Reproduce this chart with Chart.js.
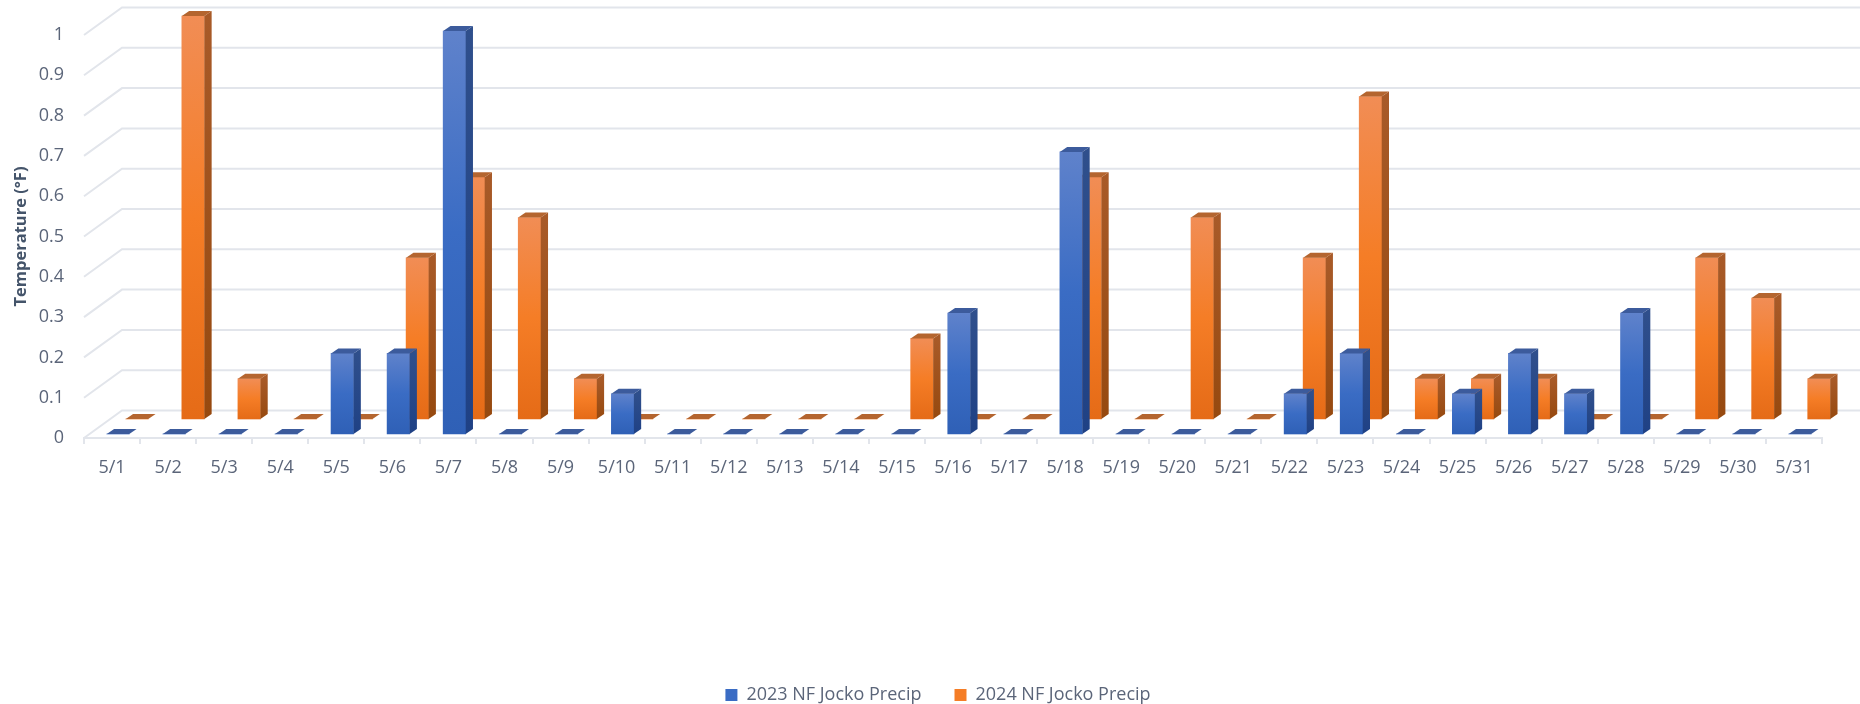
<!DOCTYPE html>
<html>
<head>
<meta charset="utf-8">
<style>
  html, body { margin: 0; padding: 0; background: #fff; }
  #wrap { width: 1860px; height: 704px; }
</style>
<script src="https://cdn.jsdelivr.net/npm/chart.js@4"></script>
</head>
<body>
<div id="wrap"><canvas id="precipChart" width="1860" height="704"></canvas></div>
<script>
const days = ['5/1','5/2','5/3','5/4','5/5','5/6','5/7','5/8','5/9','5/10','5/11','5/12','5/13','5/14','5/15','5/16',
  '5/17','5/18','5/19','5/20','5/21','5/22','5/23','5/24','5/25','5/26','5/27','5/28','5/29','5/30','5/31'];
const precip2023 = [0,0,0,0,0.2,0.2,1,0,0,0.1,0,0,0,0,0,0.3,0,0.7,0,0,0,0.1,0.2,0,0.1,0.2,0.1,0.3,0,0,0];
const precip2024 = [0,1,0.1,0,0,0.4,0.6,0.5,0.1,0,0,0,0,0,0.2,0,0,0.6,0,0.5,0,0.4,0.8,0.1,0.1,0.1,0,0,0.4,0.3,0.1];
const yTickLabels = ['0','0.1','0.2','0.3','0.4','0.5','0.6','0.7','0.8','0.9','1'];

const font = '"Open Sans", sans-serif';
const textColor = '#5b6579';
const gridColor = '#e2e5eb';

// 3D look: the wall sits behind the front axis, each series on its own row
const wallDx = 38, wallDy = -27.5;
const barDx = 7.3, barDy = -5;
const rows = [
  { dx: 6, dy: -4, top: '#5f82cb', mid: '#3a6cc4', bottom: '#2f60b6', sideTop: '#2f4f8c', sideBottom: '#1f4185', cap: '#3c5b9c', legend: '#3a6cc4' },
  { dx: 25, dy: -19, top: '#f18d55', mid: '#f57d26', bottom: '#e56b17', sideTop: '#a85a28', sideBottom: '#96490f', cap: '#b4652f', legend: '#f57d26' }
];

function barFill(row) {
  return (c) => {
    if (c.type !== 'data' || !c.chart.chartArea || !c.raw) return row.legend;
    const y = c.chart.scales.y;
    const g = c.chart.ctx.createLinearGradient(0, y.getPixelForValue(c.raw), 0, y.getPixelForValue(0));
    g.addColorStop(0, row.top);
    g.addColorStop(0.5, row.mid);
    g.addColorStop(1, row.bottom);
    return g;
  };
}

function poly(ctx, pts, fill) {
  ctx.beginPath();
  pts.forEach((p, i) => i ? ctx.lineTo(p[0], p[1]) : ctx.moveTo(p[0], p[1]));
  ctx.closePath();
  ctx.fillStyle = fill;
  ctx.fill();
}

const wallPlugin = {
  id: 'wall',
  // legend is centred on the whole page, not on the space left of the wall
  afterLayout(chart) {
    chart.legend.left += 27;
    chart.legend.right += 27;
  },
  beforeDatasetsDraw(chart) {
    const { ctx, scales: { x, y } } = chart;
    ctx.save();
    ctx.strokeStyle = gridColor;
    ctx.lineWidth = 2;
    y.ticks.forEach((t) => {
      const py = y.getPixelForValue(t.value);
      ctx.beginPath();
      ctx.moveTo(x.left, py);
      ctx.lineTo(x.left + wallDx, py + wallDy);
      ctx.lineTo(x.right + wallDx, py + wallDy);
      ctx.stroke();
    });
    ctx.restore();
  }
};

const bar3dPlugin = {
  id: 'bar3d',
  beforeDatasetDraw(chart, args) {
    const row = rows[args.index];
    chart.ctx.save();
    chart.ctx.translate(row.dx, row.dy);
  },
  afterDatasetDraw(chart, args) {
    const ctx = chart.ctx, row = rows[args.index];
    args.meta.data.forEach((bar) => {
      const p = bar.getProps(['x', 'y', 'base', 'width'], true);
      const l = p.x - p.width / 2, r = p.x + p.width / 2;
      if (p.base - p.y > 1) {
        const g = ctx.createLinearGradient(0, p.y, 0, p.base);
        g.addColorStop(0, row.sideTop);
        g.addColorStop(1, row.sideBottom);
        poly(ctx, [[r, p.y], [r + barDx, p.y + barDy], [r + barDx, p.base + barDy], [r, p.base]], g);
      }
      poly(ctx, [[l, p.y], [l + barDx, p.y + barDy], [r + barDx, p.y + barDy], [r, p.y]], row.cap);
    });
    ctx.restore();
  }
};

const precipChart = new Chart(document.getElementById('precipChart').getContext('2d'), {
  type: 'bar',
  data: {
    labels: days,
    datasets: [
      { label: '2023 NF Jocko Precip', data: precip2023, backgroundColor: barFill(rows[0]), clip: false },
      { label: '2024 NF Jocko Precip', data: precip2024, backgroundColor: barFill(rows[1]), clip: false }
    ]
  },
  options: {
    responsive: false,
    animation: false,
    grouped: false,
    barThickness: 22.5,
    layout: { padding: { top: 35, right: 38, left: 0, bottom: -10 } },
    plugins: {
      tooltip: { enabled: false },
      legend: {
        position: 'bottom',
        labels: {
          boxWidth: 12, boxHeight: 12, padding: 33,
          color: textColor,
          font: { family: font, size: 18 }
        }
      }
    },
    scales: {
      x: {
        afterFit(scale) { scale.height = 215; },
        grid: { drawOnChartArea: false, color: gridColor, tickLength: 6, lineWidth: 2 },
        border: { color: gridColor, width: 2 },
        ticks: { color: textColor, font: { family: font, size: 18 }, maxRotation: 0, autoSkip: false, padding: 13 }
      },
      y: {
        min: 0,
        max: 1,
        afterFit(scale) { scale.width = 84; },
        grid: { display: false },
        border: { display: false },
        ticks: {
          stepSize: 0.1,
          color: textColor,
          font: { family: font, size: 18 },
          padding: 12,
          callback: (v, i) => yTickLabels[i]
        },
        title: {
          display: true,
          text: 'Temperature (°F)',
          color: '#44546a',
          font: { family: font, size: 16.5, weight: 'bold' },
          padding: { top: 11, bottom: 0 }
        }
      }
    }
  },
  plugins: [wallPlugin, bar3dPlugin]
});
</script>
</body>
</html>
